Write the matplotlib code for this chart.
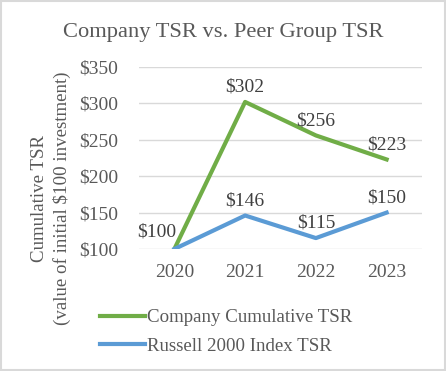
import matplotlib.pyplot as plt
from matplotlib.patches import Rectangle

years = ["2020", "2021", "2022", "2023"]
company_tsr = [100, 302, 256, 223]
russell_tsr = [100, 146, 115, 150]
yticks = [100, 150, 200, 250, 300, 350]

green = "#70AD47"
blue = "#5B9BD5"
grey_txt = "#595959"

plt.rcParams["font.family"] = ["Liberation Serif", "DejaVu Serif"]

W, H = 446, 371
fig = plt.figure(figsize=(W / 100, H / 100), dpi=100)
fig.patches.append(Rectangle((0.002, 0.003), 0.996, 0.994, transform=fig.transFigure,
                             fill=False, edgecolor="#D9D9D9", linewidth=1.5))

ax = fig.add_axes([139 / W, 1 - 249 / H, 283 / W, 182 / H])
x = list(range(len(years)))
ax.plot(x, company_tsr, color=green, lw=3, label="Company Cumulative TSR", zorder=3)
ax.plot(x, russell_tsr, color=blue, lw=3, label="Russell 2000 Index TSR", zorder=3)

ax.set_xlim(-0.5, 3.5)
ax.set_ylim(100, 350)
ax.set_yticks(yticks)
ax.set_yticklabels(["$" + str(v) for v in yticks])
ax.set_xticks(x)
ax.set_xticklabels(years)
ax.tick_params(length=0, labelsize=14, colors=grey_txt)
ax.tick_params(axis="x", pad=11)
ax.tick_params(axis="y", pad=15)
ax.grid(axis="y", color="#D9D9D9", lw=1)
ax.set_axisbelow(True)
for s in ax.spines.values():
    s.set_visible(False)

# data labels
for i, v in enumerate(company_tsr):
    if i == 0:
        ax.annotate("$%d" % v, (i, v), xytext=(-13, 6), textcoords="offset points",
                    ha="center", va="bottom", fontsize=14, color="#404040")
    else:
        ax.annotate("$%d" % v, (i, v), xytext=(0, 4.5), textcoords="offset points",
                    ha="center", va="bottom", fontsize=14, color="#404040")
for i, v in enumerate(russell_tsr):
    if i == 0:
        continue
    ax.annotate("$%d" % v, (i, v), xytext=(0, 4.5), textcoords="offset points",
                ha="center", va="bottom", fontsize=14, color="#404040")

fig.text(223 / W, 1 - 32 / H, "Company TSR vs. Peer Group TSR", ha="center", va="center",
         fontsize=16.2, color=grey_txt)
fig.text(51 / W, 1 - 198 / H, "Cumulative TSR\n(value of initial $100 investment)",
         rotation=90, ha="center", va="center", multialignment="center",
         fontsize=13.6, color=grey_txt, linespacing=1.3)

leg = ax.legend(loc="upper left", bbox_to_anchor=(100 / W, 1 - 309 / H),
                bbox_transform=fig.transFigure, frameon=False, fontsize=13.6,
                handlelength=2.4, handletextpad=0.1, labelspacing=0.6,
                borderaxespad=0, borderpad=0)
for t in leg.get_texts():
    t.set_color(grey_txt)

fig.savefig("out.png", dpi=100)
